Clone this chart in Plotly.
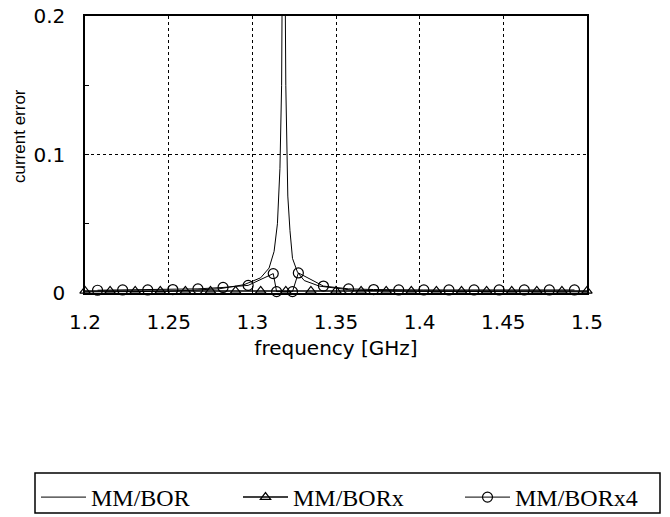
import plotly.graph_objects as go

# MM/BOR (solid line, no markers)
bor_f = [1.2, 1.25, 1.28, 1.295, 1.305, 1.31, 1.313, 1.315, 1.3165, 1.3175, 1.3182,
         1.3187, 1.3192, 1.32, 1.3212, 1.3225, 1.324, 1.327, 1.331, 1.34, 1.36, 1.4, 1.45, 1.5]
bor_e = [0.0008, 0.0012, 0.003, 0.006, 0.011, 0.018, 0.03, 0.05, 0.09, 0.15, 0.3,
         0.6, 0.3, 0.15, 0.07, 0.045, 0.025, 0.015, 0.009, 0.005, 0.002, 0.0012, 0.001, 0.0008]

# MM/BORx (triangles)
borx_f = [1.2, 1.215, 1.23, 1.245, 1.26, 1.275, 1.29, 1.305, 1.32, 1.335, 1.35,
          1.365, 1.38, 1.395, 1.41, 1.425, 1.44, 1.455, 1.47, 1.485, 1.5]
borx_e = [0.0015] * 21

# MM/BORx4 (circles)
borx4_f = [1.2075, 1.2225, 1.2375, 1.2525, 1.2675, 1.2825, 1.2975, 1.3125, 1.3145, 1.324,
           1.3275, 1.3425, 1.3575, 1.3725, 1.3875, 1.4025, 1.4175, 1.4325, 1.4475, 1.4625,
           1.4775, 1.4925]
borx4_e = [0.002, 0.0022, 0.0022, 0.0025, 0.003, 0.004, 0.0055, 0.014, 0.001, 0.001,
           0.0145, 0.005, 0.003, 0.0025, 0.0022, 0.0022, 0.0022, 0.0022, 0.0022, 0.0022,
           0.0022, 0.0022]

x_ticks = [1.2, 1.25, 1.3, 1.35, 1.4, 1.45, 1.5]
x_ticktext = ["1.2", "1.25", "1.3", "1.35", "1.4", "1.45", "1.5"]
y_ticks = [0, 0.1, 0.2]
y_ticktext = ["0", "0.1", "0.2"]

W, H = 670, 517

fig = go.Figure()
fig.add_trace(go.Scatter(x=bor_f, y=bor_e, mode="lines", name="MM/BOR",
                         line=dict(color="black", width=1), legend="legend"))
fig.add_trace(go.Scatter(x=borx_f, y=borx_e, mode="lines+markers", name="MM/BORx",
                         line=dict(color="black", width=1.5), cliponaxis=False,
                         marker=dict(symbol="triangle-up-open", size=9, color="black",
                                     line=dict(width=1.2)), legend="legend2"))
fig.add_trace(go.Scatter(x=borx4_f, y=borx4_e, mode="lines+markers", name="MM/BORx4",
                         line=dict(color="black", width=1), cliponaxis=False,
                         marker=dict(symbol="circle-open", size=10, color="black",
                                     line=dict(width=1.2)), legend="legend3"))

tickfont = dict(family="DejaVu Sans", size=20, color="black")
legfont = dict(family="Liberation Serif", size=24, color="black")


def leg(xpx):
    return dict(orientation="h", xref="container", yref="container",
                x=xpx / W, xanchor="left", y=1 - 475 / H, yanchor="top",
                borderwidth=0, font=legfont, itemwidth=45,
                bgcolor="rgba(0,0,0,0)")


fig.update_layout(
    width=W, height=H,
    margin=dict(l=85, r=83, t=16, b=224, autoexpand=False),
    paper_bgcolor="white", plot_bgcolor="white",
    showlegend=True,
    legend=leg(36), legend2=leg(238), legend3=leg(460),
    xaxis=dict(range=[1.2, 1.5], tickvals=x_ticks, ticktext=x_ticktext,
               tickfont=tickfont, showline=True, mirror=True, linecolor="black",
               linewidth=1.5, showgrid=True, gridcolor="black", griddash="dot",
               gridwidth=1, zeroline=False, ticks="inside", ticklen=4,
               tickcolor="black", ticklabelstandoff=10, automargin=False,
               title=dict(text="frequency [GHz]",
                          font=dict(family="DejaVu Sans", size=20, color="black"),
                          standoff=8)),
    yaxis=dict(range=[0, 0.2], tickvals=y_ticks, ticktext=y_ticktext,
               tickfont=tickfont, showline=True, mirror=True, linecolor="black",
               linewidth=1.5, showgrid=True, gridcolor="black", griddash="dot",
               gridwidth=1, zeroline=False, ticks="inside", ticklen=4,
               tickcolor="black", ticklabelstandoff=14, automargin=False,
               minor=dict(tickvals=[0.05, 0.15], ticks="inside", ticklen=4,
                          tickcolor="black", showgrid=False)),
    shapes=[dict(type="rect", xref="paper", yref="paper",
                 x0=(35 - 85) / 502, x1=(660 - 85) / 502,
                 y0=(293 - 473) / 277, y1=(293 - 513) / 277,
                 line=dict(color="black", width=1.5), fillcolor="rgba(0,0,0,0)")],
    annotations=[dict(text="current error", textangle=-90, xref="paper", yref="paper",
                      x=(19 - 85) / 502, y=(293 - 136) / 277, xanchor="center",
                      yanchor="middle", showarrow=False,
                      font=dict(family="Liberation Sans", size=17, color="black"))],
)

fig.write_html("out.html")
